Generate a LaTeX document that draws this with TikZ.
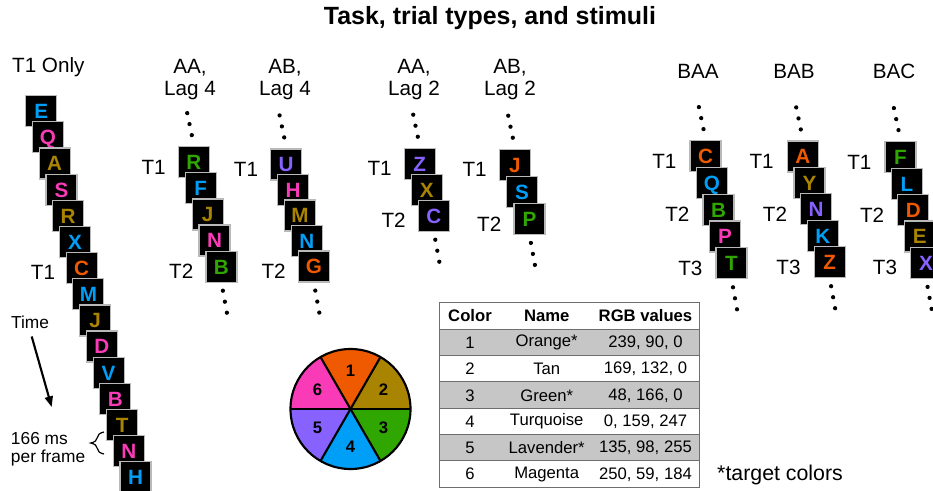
\documentclass[tikz,border=0pt]{standalone}
\usepackage{fontspec}
\setmainfont{Liberation Sans}
\usetikzlibrary{arrows.meta, positioning, calc, decorations.pathreplacing}
\definecolor{corange}{RGB}{239,90,0}
\definecolor{ctan}{RGB}{169,132,0}
\definecolor{cgreen}{RGB}{48,166,0}
\definecolor{cturq}{RGB}{0,159,247}
\definecolor{clav}{RGB}{135,98,255}
\definecolor{cmag}{RGB}{250,59,184}
\definecolor{cgrey}{RGB}{110,110,110}
\definecolor{crow}{RGB}{198,198,198}
\tikzset{
  every picture/.style={line width=0.75pt},
  frame/.style={fill=black, draw=gray!55, line width=0.9pt, minimum size=23.25pt, inner sep=0pt,
    text height=11.1pt, text depth=0pt, font=\fontsize{15.5}{18}\selectfont\bfseries},
  lbl/.style={font=\fontsize{15.5}{18}\selectfont, inner sep=0pt, anchor=east},
  hdr/.style={font=\fontsize{15.5}{16.6}\selectfont, inner sep=0pt, align=center},
  dotmark/.style={fill=black},
  tcell/.style={font=\fontsize{12.5}{14}\selectfont, inner sep=0pt},
  thead/.style={font=\fontsize{12.5}{14}\selectfont\bfseries, inner sep=0pt},
  note/.style={font=\fontsize{13}{13.7}\selectfont, inner sep=0pt, align=left},
  tarrow/.style={-{Triangle[length=8pt, width=6pt]}, line width=1.6pt},
}

\begin{document}
\begin{tikzpicture}[x=0.75pt, y=-0.75pt]
  % \stream{name}{x}{y}{dx}{dy}{letter/colour list}: frames, top-left of the first at (x,y)
  \newcommand{\stream}[6]{\foreach \l/\c [count=\i] in {#6}
      \node[frame, text=\c] (#1-\i) at ({#2+15.5+(\i-1)*#4},{#3+15.5+(\i-1)*#5}) {\l};}
  % \dotsup{node} and \dotsdown{node}: three dots before and after a stream
  \newcommand{\dotsup}[1]{\foreach \k in {0,1,2}
      \fill[dotmark] ($(#1.north)+({-2-2.3*\k},{-11-11*\k})$) circle[radius=1.6pt];}
  \newcommand{\dotsdown}[1]{\foreach \k in {0,1,2}
      \fill[dotmark] ($(#1.south)+({1.5+2*\k},{8+11*\k})$) circle[radius=1.6pt];}
  \useasboundingbox (0,0) rectangle (933,490);

  \node[font=\fontsize{18.7}{21}\selectfont\bfseries, anchor=base] (title) at (490,24)
    {Task, trial types, and stimuli};

  % column headings
  \node[hdr, anchor=base] (h-t1o) at (48.3,72.7) {T1 Only};
  \node[hdr, anchor=north] (h-aa4) at (190,59) {AA,\\Lag 4};
  \node[hdr, anchor=north] (h-ab4) at (285,59) {AB,\\Lag 4};
  \node[hdr, anchor=north] (h-aa2) at (414,59) {AA,\\Lag 2};
  \node[hdr, anchor=north] (h-ab2) at (510,59) {AB,\\Lag 2};
  \node[hdr, anchor=base] (h-baa) at (698,78) {BAA};
  \node[hdr, anchor=base] (h-bab) at (794,78) {BAB};
  \node[hdr, anchor=base] (h-bac) at (894,78) {BAC};

  % streams
  \stream{t1o}{25.7}{95.7}{6.74}{26.15}{E/cturq, Q/cmag, A/ctan, S/cmag, R/ctan, X/cturq, C/corange,
    M/cturq, J/ctan, D/cmag, V/cturq, B/cmag, T/ctan, N/cmag, H/cturq}
  \stream{aa4}{178.3}{146.7}{6.9}{26.1}{R/cgreen, F/cturq, J/ctan, N/cmag, B/cgreen}
  \stream{ab4}{270.7}{149}{6.9}{25.5}{U/clav, H/cmag, M/ctan, N/cturq, G/corange}
  \stream{aa2}{404.3}{148.3}{7}{25.9}{Z/clav, X/ctan, C/clav}
  \stream{ab2}{499.3}{149.3}{7.3}{27}{J/corange, S/cturq, P/cgreen}
  \stream{baa}{690}{140.7}{6.5}{26.75}{C/corange, Q/cturq, B/cgreen, P/cmag, T/cgreen}
  \stream{bab}{787.3}{141}{6.7}{26.4}{A/corange, Y/ctan, N/clav, K/cturq, Z/corange}
  \stream{bac}{885}{141.7}{6.4}{26.4}{F/cgreen, L/cturq, D/corange, E/ctan, X/clav}

  \foreach \s/\n in {aa4/5, ab4/5, aa2/3, ab2/3, baa/5, bab/5, bac/5} {
    \dotsup{\s-1}
    \dotsdown{\s-\n}
  }

  % target labels
  \node[lbl] (t1o-t1) at ($(t1o-7.west)+(-10,4)$) {T1};
  \foreach \s/\n in {aa4/5, ab4/5, aa2/3, ab2/3} {
    \node[lbl] (\s-t1) at ($(\s-1.west)+(-11.5,5)$) {T1};
    \node[lbl] (\s-t2) at ($(\s-\n.west)+(-11.5,5)$) {T2};
  }
  \foreach \s in {baa, bab, bac} {
    \node[lbl] (\s-t1) at ($(\s-1.west)+(-12.5,5)$) {T1};
    \node[lbl] (\s-t2) at ($(\s-3.west)+(-12.5,5)$) {T2};
    \node[lbl] (\s-t3) at ($(\s-5.west)+(-12.5,5)$) {T3};
  }

  % time arrow and frame duration
  \node[font=\fontsize{13}{15}\selectfont, inner sep=0pt, anchor=base] (time) at (30,328) {Time};
  \coordinate (tstart) at (31.7,336.5);
  \coordinate (tend) at (51.7,407);
  \draw[tarrow] (tstart) -- (tend);
  \node[note, anchor=north west] (dur) at (10.5,431.5) {166 ms\\per frame};
  \coordinate (blo) at (104,454);
  \coordinate (bhi) at (104,432);
  \draw[line width=0.9pt, decorate, decoration={brace, amplitude=10pt}] (blo) -- (bhi);

  % colour wheel
  \coordinate (wheel) at (350.5,409);
  \begin{scope}[shift={(wheel)}, yscale=-1]
    \foreach \a/\c/\n in {60/corange/1, 0/ctan/2, -60/cgreen/3, 240/cturq/4, 180/clav/5, 120/cmag/6} {
      \fill[\c] (0,0) -- (\a:60) arc[start angle=\a, end angle=\a+60, radius=60] -- cycle;
      \node[font=\fontsize{12.5}{14}\selectfont\bfseries, inner sep=0pt] (w\n) at (\a+30:38) {\n};
    }
    \foreach \a in {0,60,120} \draw[line width=1.6pt] (\a:60) -- (\a+180:60);
    \draw[line width=1.6pt] (0,0) circle[radius=60];
  \end{scope}

  % colour table
  \draw[draw=cgrey, line width=0.7pt, fill=white] (439.5,302) rectangle (699,329);
  \node[thead] (th-1) at (470,316) {Color};
  \node[thead] (th-2) at (546.7,316) {Name};
  \node[thead] (th-3) at (645.5,316) {RGB values};
  \foreach \nm/\rgb [count=\r] in {Orange*/{239, 90, 0}, Tan/{169, 132, 0}, Green*/{48, 166, 0},
      Turquoise/{0, 159, 247}, Lavender*/{135, 98, 255}, Magenta/{250, 59, 184}} {
    \pgfmathsetmacro{\yt}{329+(\r-1)*26.33}
    \pgfmathsetmacro{\ym}{\yt+13.6}
    \ifodd\r \def\rowfill{crow}\else \def\rowfill{white}\fi
    \draw[draw=cgrey, line width=0.7pt, fill=\rowfill] (439.5,\yt) rectangle (699,\yt+26.33);
    \node[tcell] (tc-\r) at (470,\ym) {\r};
    \node[tcell] (tn-\r) at (546.7,\ym) {\nm};
    \node[tcell] (tv-\r) at (645.5,\ym) {\rgb};
  }
  \node[font=\fontsize{16}{18}\selectfont, inner sep=0pt, anchor=base west] (tnote) at (716.7,480)
    {*target colors};
\end{tikzpicture}
\end{document}
